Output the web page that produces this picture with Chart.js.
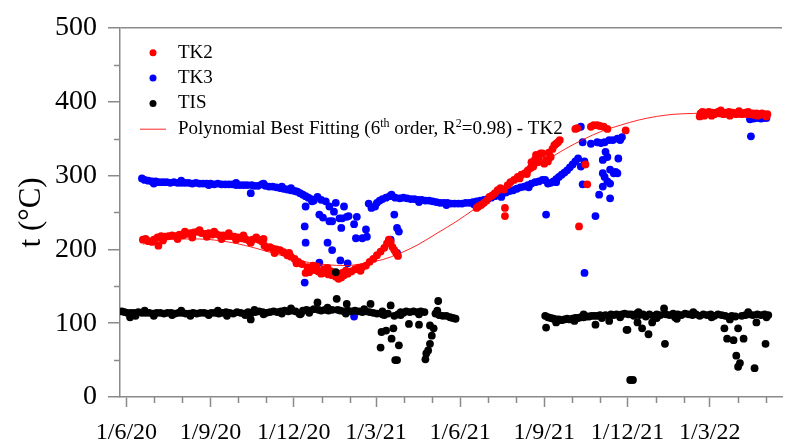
<!DOCTYPE html>
<html>
<head>
<meta charset="utf-8">
<script src="https://cdn.jsdelivr.net/npm/chart.js@4.4.0/dist/chart.umd.min.js"></script>
<style>
  html, body { margin: 0; padding: 0; background: #fff; }
  #wrap { width: 786px; height: 444px; }
</style>
</head>
<body>
<div id="wrap"><canvas id="tempChart"></canvas></div>
<script>
// x values are days counted from 1 June 2020
const START = Date.UTC(2020, 5, 1);

// [day, °C]
const tk2 = [
  [18,213],[21,214],[24,211],[30,213],[34,216],[35,205],[38,218],[42,217],[46,218],[50,219],[54,218],[58,220],
  [62,219],[66,221],[70,222],[74,223],[78,224],[82,222],[86,221],[90,222],[94,220],[98,221],[102,219],[106,219],
  [110,218],[114,218],[118,217],[122,216],[126,215],[130,214],[134,212],[138,213],[142,216],[145,213],[148,211],
  [151,205],[154,202],[157,203],[160,201],[164,200],[168,199],[172,196],[176,192],[180,190],[184,187],[188,183],
  [192,180],[196,168],[198,176],[200,169],[202,174],[206,172],[208,177],[210,170],[213,167],[216,173],[217,168],
  [221,166],[224,170],[225,165],[229,163],[232,160],[235,162],[236,168],[238,165],[242,167],[246,170],[250,173],
  [254,175],[258,176],[262,178],[266,183],[270,187],[274,192],[278,197],[282,202],[285,208],[287,213],[289,210],
  [291,203],[293,199],[295,195],[297,191],
  [28,210],[40,212],[56,214],[64,224],[72,216],[80,226],[88,217],[96,224],[104,214],[112,222],[120,213],
  [128,219],[136,209],[150,214],[162,195],[178,195],[186,181],[204,178],[220,175],[240,171],[256,171],
  [383,256],[385,258],[388,260],[391,263],[394,266],[397,271],[400,273],[403,276],[406,280],[409,283],[413,281],
  [414,256],[414,245],[417,287],[420,291],[424,294],[428,298],[432,301],[436,303],[439,307],[442,310],[443,318],
  [445,312],[447,322],[448,328],[450,318],[451,324],[453,330],[455,330],[457,316],[459,321],[461,319],[464,325],
  [466,336],[468,341],[470,343],[472,345],[474,348],[430,296],[438,302],[462,331],
  [491,363],[493,364],[495,231],[502,315],[504,288],[508,366],[511,368],[515,368],[518,367],[522,366],[526,363],
  [546,361],
  [627,380],[628,384],[630,386],[632,381],[633,385],[635,384],[637,386],[639,384],[641,385],[643,383],[645,385],
  [647,386],[649,384],[651,385],[653,383],[655,385],[657,384],[659,386],[661,384],[663,385],[665,384],[667,383],
  [669,385],[671,384],[673,383],[675,384],[677,385],[679,383],[681,384],[683,383],[685,384],[687,382],[689,384],
  [691,383],[693,382],[695,384],[697,383],[699,382],[701,383],
  [640,381],[650,388],[660,381],[670,387],[680,386],[690,381],[700,380]
];

const tk3 = [
  [17,296],[20,294],[24,293],[28,292],[32,292],[36,291],[40,291],[44,291],[48,290],[52,291],[56,290],[60,290],
  [64,290],[68,290],[72,289],[76,290],[80,289],[84,289],[88,289],[92,289],[96,288],[100,289],[104,288],[108,288],
  [112,288],[116,288],[120,287],[124,287],[128,287],[132,287],[136,276],[137,287],[140,286],[144,286],[148,288],
  [152,286],[156,285],[160,285],[164,284],[168,283],[172,282],[176,281],[180,280],[184,279],[187,278],[190,276],
  [193,274],[196,272],[199,270],[202,268],[205,266],
  [30,289],[60,293],[90,287],[120,290],[150,289],[170,285],[180,283],
  [195,155],[196,258],[195,231],[196,209],[203,265],[209,271],[211,247],[211,182],[213,267],[215,243],[218,265],
  [220,209],[222,258],[222,238],[225,238],[225,199],[227,251],[229,263],[233,242],[234,185],[235,229],[236,242],
  [238,258],[241,244],[242,181],[243,245],[249,234],[249,109],[251,215],[252,244],[258,215],[262,227],[263,217],
  [265,262],[268,256],[272,258],[274,263],[277,266],[280,268],[284,270],[288,272],[289,213],[290,274],[293,247],
  [294,270],[296,229],[296,195],[298,224],[299,269],[303,270],[307,269],[311,268],[315,268],[319,267],[323,267],
  [327,266],[331,266],[335,265],[339,264],[343,263],[347,263],[351,263],[355,262],[359,262],[363,262],[367,262],
  [371,263],[375,263],[379,264],[383,265],[387,266],[391,267],[395,268],[399,270],[403,272],[407,274],[411,275],
  [415,277],[419,279],[423,280],[427,282],[431,284],[435,285],[439,287],[443,289],[447,291],[451,292],[455,294],
  [458,294],[459,247],[461,289],[464,290],[467,292],[470,295],[473,298],[476,301],[479,304],[482,307],[485,311],
  [488,315],[491,319],[494,323],[497,366],[497,312],[499,345],[499,288],[501,319],[501,168],
  [320,264],[350,260],[380,261],[410,271],[440,284],[470,291],
  [508,343],[513,245],[515,345],[517,274],[519,344],[521,285],[521,321],[521,303],[523,298],[523,345],[524,332],
  [526,292],[526,325],[528,348],[529,308],[529,289],[529,269],[532,348],[533,303],[535,305],[537,350],[537,303],
  [538,323],[540,350],[540,348],[542,352],
  [682,376],[683,353],[684,378],[686,377],[688,378],[690,379],[692,378],[694,377],[696,379],[698,378],[700,378]
];

const tis = [
  [-5,116],[-2,115],[1,114],[4,108],[5,114],[9,114],[13,115],[17,114],[21,114],[25,114],[29,113],[33,114],
  [37,114],[41,113],[45,114],[49,114],[53,113],[57,114],[61,114],[65,113],[69,113],[73,114],[77,113],[81,114],
  [85,114],[89,113],[93,114],[97,114],[101,113],[105,114],[109,115],[113,114],[117,113],[121,115],[125,114],
  [129,113],[133,115],[136,105],[137,114],[141,115],[145,116],[149,115],[153,114],[157,115],[161,116],[165,115],
  [169,116],[173,117],[177,116],[181,117],[185,116],[189,113],[191,113],[193,117],[197,118],[201,117],[205,119],
  [209,128],[210,118],[213,117],[217,118],[221,117],[225,118],[229,169],[230,133],[231,118],[234,117],[238,116],
  [241,126],[242,117],[246,116],[250,117],[254,116],[258,115],[262,116],[266,115],[267,126],[270,114],[274,113],
  [278,67],[279,88],[280,112],[282,111],[284,90],[286,113],[289,124],[290,79],[292,93],[293,110],[294,50],
  [296,50],[297,112],[298,70],[300,115],[303,114],[306,116],[309,99],[310,115],[314,116],[318,115],[320,98],
  [322,116],[326,115],[327,51],[328,59],[330,63],[332,72],[332,97],[334,83],[336,93],[338,113],[341,130],
  [342,111],[346,110],[350,110],[354,108],[357,107],[360,106],
  [10,110],[20,117],[30,110],[50,111],[60,117],[70,110],[90,111],[100,117],[110,110],[130,111],[140,118],
  [150,112],[170,113],[180,120],[190,112],[200,114],[220,121],[240,113],[260,119],[280,116],[300,111],[320,112],
  [340,117],
  [458,110],[459,94],[461,108],[464,107],[467,106],[470,105],[473,105],[476,104],[479,105],[482,106],[485,105],
  [488,106],[491,107],[494,107],[497,108],[500,108],[503,109],[506,109],[509,110],[512,110],[513,98],[515,110],
  [518,111],[521,110],[524,111],[527,110],[528,103],[530,112],[533,111],[536,112],[539,111],[542,112],[545,113],
  [547,91],[548,91],[549,112],[551,23],[552,112],[554,23],[555,110],[558,113],[559,101],[561,111],[564,93],
  [565,112],[568,109],[571,85],[572,112],[575,101],[576,110],[580,112],[584,111],[588,120],[589,72],[590,112],
  [594,111],[598,113],[602,106],[603,112],[607,111],[611,113],[615,112],[619,111],[623,112],[627,110],[631,112],
  [635,111],[639,112],[643,110],[647,112],[651,111],[654,93],[655,110],[657,79],[659,108],[662,110],[664,77],
  [666,109],[667,56],[669,93],[669,41],[671,46],[673,110],[675,79],[677,111],[681,112],[685,111],[687,39],
  [689,101],[690,112],[694,111],[698,112],[699,72],[702,111],
  [470,101],[490,103],[500,112],[520,107],[540,108],[560,115],[580,107],[600,108],[620,115],[640,108],
  [660,105],[680,115],[700,108]
];

// 6th order polynomial fit through TK2
const tk2Fit = [
  [18,207],[30,210],[45,213],[60,214],[80,214],[100,212],[120,208],[140,202],[160,195],[180,188],[200,182],
  [220,179],[240,178],[260,181],[280,186],[300,195],[320,207],[340,222],[360,237],[380,254],[400,272],[420,290],
  [440,306],[460,321],[480,336],[500,349],[520,360],[540,368],[560,375],[580,380],[600,383],[620,384],[640,385],
  [660,385],[680,385],[702,384]
];

const seriesLabels = ['TK2', 'TK3', 'TIS', 'Polynomial Best Fitting (6^{th} order, R^{2}=0.98) - TK2'];
const yMajorTicks = [0, 100, 200, 300, 400, 500];
const yMinorTicks = [50, 150, 250, 350, 450];

// month starts on the x axis; every third one gets a label
const monthStarts = [];
for (let i = 0; i < 24; i++) {
  monthStarts.push((Date.UTC(2020, 5 + i, 1) - START) / 86400000);
}
const majorDays = monthStarts.filter((d, i) => i % 3 === 0);
const minorDays = monthStarts.filter((d, i) => i % 3 !== 0);

const axisGray = '#8a8a8a';
const serif = '"Liberation Serif", "Times New Roman", serif';

function toPoints(rows) {
  return rows.map(r => ({ x: r[0], y: r[1] }));
}

function dayLabel(v) {
  const d = new Date(START + v * 86400000);
  return d.getUTCDate() + '/' + (d.getUTCMonth() + 1) + '/' + String(d.getUTCFullYear()).slice(2);
}

// short ticks between the labelled ones
const minorTickMarks = {
  id: 'minorTickMarks',
  afterDraw(chart) {
    const { ctx, scales: { x, y } } = chart;
    ctx.save();
    ctx.strokeStyle = axisGray;
    ctx.lineWidth = 1.5;
    ctx.beginPath();
    minorDays.forEach(d => {
      const px = Math.round(x.getPixelForValue(d)) + 0.5;
      ctx.moveTo(px, x.top);
      ctx.lineTo(px, x.top + 6);
    });
    yMinorTicks.forEach(v => {
      const py = Math.round(y.getPixelForValue(v)) + 0.5;
      ctx.moveTo(y.right - 6, py);
      ctx.lineTo(y.right, py);
    });
    ctx.stroke();
    ctx.restore();
  }
};

// legend inside the plot, with ^{...} drawn as superscript
const insideLegend = {
  id: 'insideLegend',
  afterDraw(chart) {
    const { ctx, chartArea } = chart;
    const x0 = chartArea.left + 33;
    const y0 = chartArea.top + 25;
    const rowH = 25.3;
    ctx.save();
    ctx.textBaseline = 'middle';
    chart.data.datasets.forEach((ds, i) => {
      const cy = y0 + i * rowH;
      if (ds.showLine) {
        ctx.strokeStyle = ds.borderColor;
        ctx.lineWidth = 1;
        ctx.beginPath();
        ctx.moveTo(x0 - 13, cy + 0.5);
        ctx.lineTo(x0 + 13, cy + 0.5);
        ctx.stroke();
      } else {
        ctx.fillStyle = ds.backgroundColor;
        ctx.beginPath();
        ctx.arc(x0, cy, 3.5, 0, Math.PI * 2);
        ctx.fill();
      }
      let tx = x0 + 25;
      ctx.fillStyle = '#000';
      ds.label.split(/(\^\{[^}]*\})/).forEach(part => {
        if (!part) return;
        if (part.startsWith('^{')) {
          const s = part.slice(2, -1);
          ctx.font = '12px ' + serif;
          ctx.fillText(s, tx, cy - 5);
          tx += ctx.measureText(s).width;
        } else {
          ctx.font = '19px ' + serif;
          ctx.fillText(part, tx, cy);
          tx += ctx.measureText(part).width;
        }
      });
    });
    ctx.restore();
  }
};

const dotRadius = 3.9;

new Chart(document.getElementById('tempChart'), {
  type: 'scatter',
  data: {
    datasets: [
      {
        label: seriesLabels[0],
        data: toPoints(tk2),
        backgroundColor: '#ff0000',
        pointRadius: dotRadius,
        pointBorderWidth: 0,
        order: 2
      },
      {
        label: seriesLabels[1],
        data: toPoints(tk3),
        backgroundColor: '#0000ff',
        pointRadius: dotRadius,
        pointBorderWidth: 0,
        order: 3
      },
      {
        label: seriesLabels[2],
        data: toPoints(tis),
        backgroundColor: '#000000',
        pointRadius: dotRadius,
        pointBorderWidth: 0,
        order: 1
      },
      {
        type: 'line',
        label: seriesLabels[3],
        data: toPoints(tk2Fit),
        showLine: true,
        borderColor: 'rgba(255, 0, 0, 0.85)',
        borderWidth: 1,
        pointRadius: 0,
        cubicInterpolationMode: 'monotone',
        fill: false,
        order: 0
      }
    ]
  },
  options: {
    responsive: true,
    maintainAspectRatio: false,
    animation: false,
    layout: { padding: { top: 25, right: 0, bottom: 0, left: 0 } },
    plugins: {
      legend: { display: false },
      tooltip: { enabled: false }
    },
    scales: {
      x: {
        type: 'linear',
        min: -7,
        max: 717,
        afterBuildTicks: (scale) => {
          scale.ticks = majorDays.map(v => ({ value: v }));
        },
        afterFit: (scale) => { scale.height = 47; },
        ticks: {
          autoSkip: false,
          maxRotation: 0,
          padding: 11,
          color: '#000',
          font: { family: serif, size: 24 },
          callback: (v) => dayLabel(v)
        },
        grid: {
          drawOnChartArea: false,
          tickLength: 10,
          tickColor: axisGray,
          tickWidth: 1.5
        },
        border: { color: axisGray, width: 1.5 }
      },
      y: {
        min: 0,
        max: 500,
        afterBuildTicks: (scale) => {
          scale.ticks = yMajorTicks.map(v => ({ value: v }));
        },
        afterFit: (scale) => { scale.width = 120; },
        title: {
          display: true,
          text: 't (°C)',
          color: '#000',
          font: { family: serif, size: 31 },
          padding: { top: 13, bottom: 0 }
        },
        ticks: {
          padding: 11,
          color: '#000',
          font: { family: serif, size: 28 }
        },
        grid: {
          color: (c) => (c.tick && c.tick.value === 500 ? axisGray : 'rgba(0,0,0,0)'),
          lineWidth: 1.5,
          tickLength: 12,
          tickColor: axisGray,
          tickWidth: 1.5
        },
        border: { color: axisGray, width: 1.5 }
      }
    }
  },
  plugins: [minorTickMarks, insideLegend]
});
</script>
</body>
</html>
